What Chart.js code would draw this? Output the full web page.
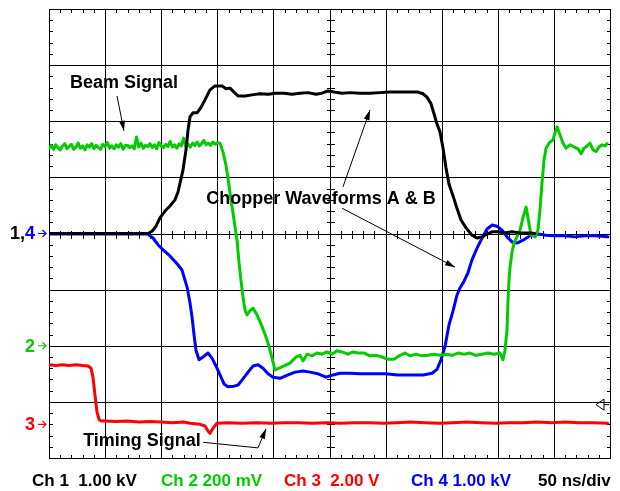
<!DOCTYPE html>
<html>
<head>
<meta charset="utf-8">
<script src="https://cdn.jsdelivr.net/npm/chart.js@4.4.0/dist/chart.umd.min.js"></script>
<style>
    html, body { margin: 0; padding: 0; background: #fff; }
    canvas { display: block; }
</style>
</head>
<body>
<canvas id="scope" width="620" height="491"></canvas>
<script>
// Chopper / beam scope capture - time in ns, levels in divisions

// Ch 1 - beam signal (black)
const ch1Time  = [0, 88.2, 91.8, 95.4, 98.9, 103.4, 107.8, 112.3, 115, 116.8, 119.4, 122.1, 123.9, 125.7, 128.3, 131.9, 134.6, 139, 143.5, 147.9, 154.2, 157.8, 161.3, 164.9, 168.5, 174.7, 180.9, 188.1, 195.2, 202.3, 209.5, 216.6, 223.7, 230.9, 238, 243.3, 248.7, 254, 261.2, 268.3, 277.2, 286.1, 295, 303.9, 312.8, 321.8, 328.9, 333.3, 336.9, 340.5, 343.2, 345.8, 348.5, 351.2, 353.8, 356.5, 360.1, 363.6, 367.2, 371.7, 377, 381.5, 386, 390.4, 394.8, 400.2, 405.5, 412.7, 419.8, 428.7, 433];
const ch1Level = [0, 0, 0.04, 0.13, 0.28, 0.40, 0.49, 0.60, 0.74, 0.90, 1.13, 1.49, 1.84, 2.08, 2.15, 2.15, 2.22, 2.38, 2.56, 2.63, 2.63, 2.58, 2.59, 2.52, 2.45, 2.45, 2.47, 2.49, 2.48, 2.50, 2.50, 2.48, 2.50, 2.51, 2.48, 2.50, 2.54, 2.52, 2.50, 2.51, 2.50, 2.50, 2.51, 2.52, 2.52, 2.52, 2.52, 2.49, 2.43, 2.31, 2.13, 1.95, 1.81, 1.52, 1.17, 0.88, 0.67, 0.45, 0.24, 0.10, -0.03, -0.08, -0.06, -0.01, 0.03, 0.03, 0.01, 0.03, 0.01, 0.01, 0];

// Ch 2 - chopper waveform A (green)
const ch2Time  = [0, 2, 4, 6, 8, 10, 12, 14, 16, 18, 20, 22, 24, 26, 28, 30, 32, 34, 36, 38, 40, 42, 44, 46, 48, 50, 52, 54, 56, 58, 60, 62, 64, 66, 68, 70, 72, 74, 76, 78, 80, 82, 84, 86, 88, 90, 92, 94, 96, 98, 100, 102, 104, 106, 108, 110, 112, 114, 116, 118, 120, 122, 124, 126, 128, 130, 132, 134, 136, 138, 140, 142, 144, 146, 148, 150, 152.4, 155.1, 157.7, 159.5, 162.2, 164.9, 167.6, 169.3, 171.1, 172.9, 174.7, 176.5, 179.1, 181.8, 185.4, 188.9, 192.5, 196.1, 198.8, 201.4, 205, 209.5, 214.8, 220.2, 223.7, 226.4, 230, 234.4, 238.9, 243.3, 247.8, 252.2, 256.7, 261.2, 266.5, 271, 275.4, 281, 286.1, 291.5, 296.8, 302.2, 307.5, 312.8, 317.3, 321.8, 327.1, 332.5, 337.8, 343.2, 348.5, 353.8, 359.2, 364.5, 369.9, 375.2, 380.6, 386, 391.3, 396.6, 402, 404.6, 406.4, 408.2, 409.1, 410, 410.9, 412.7, 414.5, 417.1, 419.8, 422.5, 425.2, 426.9, 429.6, 433.2, 435.8, 437.6, 439.4, 441.2, 443, 445.6, 449.2, 451, 452.8, 455.4, 458.1, 460.8, 464.4, 467.9, 471.5, 474.2, 476.8, 479.5, 482.2, 484.9, 487.5, 490.2, 492.9, 495.6, 497.3];
const ch2Level = [1.52, 1.57, 1.50, 1.58, 1.53, 1.49, 1.56, 1.60, 1.51, 1.55,
                  1.59, 1.50, 1.54, 1.61, 1.52, 1.56, 1.49, 1.58, 1.54, 1.60,
                  1.51, 1.57, 1.53, 1.50, 1.59, 1.55, 1.62, 1.52, 1.56, 1.51,
                  1.58, 1.54, 1.60, 1.50, 1.57, 1.57, 1.53, 1.56, 1.51, 1.72,
                  1.54, 1.61, 1.52, 1.57, 1.55, 1.60, 1.53, 1.58, 1.51, 1.62,
                  1.56, 1.53, 1.59, 1.55, 1.64, 1.54, 1.58, 1.52, 1.60, 1.56,
                  1.70, 1.55, 1.59, 1.54, 1.61, 1.57, 1.63, 1.56, 1.60, 1.66,
                  1.58, 1.61, 1.57, 1.63, 1.59, 1.62,
                  1.61, 1.45, 1.22, 0.99, 0.60, 0.24, -0.12, -0.51, -0.83, -1.13, -1.36, -1.45, -1.38, -1.33, -1.45, -1.61, -1.79, -2.01, -2.22, -2.43, -2.40, -2.36, -2.31, -2.20, -2.17, -2.27, -2.15, -2.18, -2.13, -2.15, -2.11, -2.15, -2.09, -2.11, -2.15, -2.11, -2.13, -2.13, -2.18, -2.17, -2.20, -2.24, -2.24, -2.17, -2.13, -2.18, -2.15, -2.18, -2.17, -2.15, -2.17, -2.15, -2.17, -2.13, -2.15, -2.13, -2.17, -2.15, -2.13, -2.15, -2.13, -2.25, -2.08, -1.72, -1.19, -0.83, -0.60, -0.33, -0.17, -0.06, 0.06, 0.29, 0.47, 0.28, -0.03, -0.06, 0.06, 0.42, 0.90, 1.31, 1.52, 1.61, 1.67, 1.79, 1.90, 1.76, 1.61, 1.52, 1.58, 1.54, 1.51, 1.42, 1.52, 1.56, 1.61, 1.49, 1.46, 1.54, 1.58, 1.56, 1.60];

// Ch 3 - timing signal (red)
const ch3Time  = [0, 6, 12, 18, 24, 30, 34.8, 37.4, 39.2, 41, 42.8, 44.6, 46.3, 49.9, 60, 70, 80, 90, 100, 110, 120, 125.7, 134.6, 139, 141.7, 143.5, 146.2, 149.7, 160, 172, 185, 198, 210, 222, 235, 248, 260, 272, 285, 298, 310, 322, 335, 348, 360, 372, 385, 398, 410, 422, 435, 448, 460, 472, 485, 498];
const ch3Level = [-2.34, -2.35, -2.34, -2.35, -2.34, -2.35, -2.36, -2.40, -2.56, -2.88, -3.18, -3.31, -3.34, -3.34, -3.35, -3.34, -3.36, -3.35, -3.36, -3.37, -3.36, -3.38, -3.40, -3.43, -3.52, -3.56, -3.47, -3.38, -3.37, -3.38, -3.37, -3.38, -3.37, -3.37, -3.38, -3.37, -3.38, -3.37, -3.37, -3.38, -3.37, -3.36, -3.37, -3.38, -3.37, -3.36, -3.37, -3.38, -3.37, -3.37, -3.36, -3.37, -3.36, -3.37, -3.37, -3.38];

// Ch 4 - chopper waveform B (blue)
const ch4Time  = [0, 88.2, 92.7, 97.1, 101.6, 107.8, 114.1, 118.5, 123, 125.7, 127.5, 129.3, 131, 133.7, 137.3, 141.7, 145.3, 148.8, 152.4, 156, 159.5, 164.9, 168.5, 172.9, 177.4, 181.8, 186.3, 190.7, 195.2, 199.7, 205.9, 213, 219.3, 226.4, 232.6, 239.8, 246.9, 253.1, 259.4, 268.3, 277.2, 287.9, 299.5, 311.1, 321.8, 333.3, 341.4, 345.8, 349.4, 352.9, 356.5, 360.1, 363.6, 366.3, 369.9, 373.4, 377, 381.5, 386, 390.4, 394.8, 399.3, 403.8, 408.2, 412.7, 417.1, 422.5, 428.7, 435.8, 443, 451, 459.9, 468.8, 477.7, 486.6, 498.2];
const ch4Level = [-0.01, -0.01, -0.08, -0.20, -0.29, -0.40, -0.54, -0.65, -0.95, -1.24, -1.49, -1.81, -2.08, -2.25, -2.20, -2.13, -2.22, -2.36, -2.52, -2.68, -2.73, -2.72, -2.70, -2.59, -2.47, -2.36, -2.34, -2.40, -2.50, -2.56, -2.58, -2.52, -2.47, -2.45, -2.47, -2.50, -2.56, -2.52, -2.49, -2.49, -2.50, -2.50, -2.50, -2.52, -2.52, -2.52, -2.49, -2.42, -2.25, -2.02, -1.63, -1.38, -1.10, -0.97, -0.85, -0.70, -0.47, -0.26, -0.08, 0.08, 0.15, 0.13, 0.06, -0.06, -0.15, -0.17, -0.12, -0.04, -0.01, -0.03, -0.04, -0.04, -0.06, -0.04, -0.04, -0.06];

// Channel reference markers (divisions) and readout
const markerLevels  = [0, -2, -3.4];
const readoutLabels = ['Ch 1  1.00 kV', 'Ch 2 200 mV', 'Ch 3  2.00 V', 'Ch 4 1.00 kV', '50 ns/div'];
const readoutColors = ['#000000', '#00cc00', '#ff0000', '#0000ff', '#000000'];
const triggerLevel  = -3.05;

const FONT = 'bold 18px "Liberation Sans", Arial, sans-serif';

function toPoints(times, levels) {
    return times.map((t, i) => ({ x: t, y: levels[i] }));
}

// Draw a thin polyline ending in a filled arrow head
function drawArrow(ctx, pts) {
    ctx.beginPath();
    ctx.moveTo(pts[0][0], pts[0][1]);
    for (let i = 1; i < pts.length; i++) ctx.lineTo(pts[i][0], pts[i][1]);
    ctx.stroke();
    const [x1, y1] = pts[pts.length - 2];
    const [x2, y2] = pts[pts.length - 1];
    const ang = Math.atan2(y2 - y1, x2 - x1);
    const len = 10, half = 3;
    ctx.beginPath();
    ctx.moveTo(x2, y2);
    ctx.lineTo(x2 - len * Math.cos(ang) + half * Math.sin(ang), y2 - len * Math.sin(ang) - half * Math.cos(ang));
    ctx.lineTo(x2 - len * Math.cos(ang) - half * Math.sin(ang), y2 - len * Math.sin(ang) + half * Math.cos(ang));
    ctx.closePath();
    ctx.fill();
}

// Scope graticule: 10 x 8 divisions, minor ticks on the edges and centre cross
const graticule = {
    id: 'graticule',
    beforeDatasetsDraw(chart) {
        const { ctx, chartArea: a, scales: { x, y } } = chart;
        const px = t => Math.round(x.getPixelForValue(t));
        const py = v => Math.round(y.getPixelForValue(v));
        const L = Math.round(a.left), R = Math.round(a.right), T = Math.round(a.top), B = Math.round(a.bottom);
        ctx.save();
        ctx.fillStyle = '#000';
        for (let t = 0; t <= 500; t += 50) ctx.fillRect(px(t), T, 1, B - T + 1);
        for (let v = -4; v <= 4; v++) ctx.fillRect(L, py(v), R - L + 1, 1);

        const cx = px(250), cy = py(0);
        for (let t = 10; t < 500; t += 10) {
            if (t % 50 === 0) continue;
            const p = px(t);
            ctx.fillRect(p, T, 1, 4);
            ctx.fillRect(p, B - 3, 1, 4);
            ctx.fillRect(p, cy - 3, 1, 8);
        }
        for (let k = -19; k < 20; k++) {
            if (k % 5 === 0) continue;
            const p = py(k * 0.2);
            ctx.fillRect(L, p, 4, 1);
            ctx.fillRect(R - 3, p, 4, 1);
            ctx.fillRect(cx - 3, p, 8, 1);
        }
        ctx.restore();
    },
    afterDatasetsDraw(chart) {
        const { ctx, chartArea: a, scales: { x, y } } = chart;
        const P = (t, v) => [x.getPixelForValue(t), y.getPixelForValue(v)];
        ctx.save();
        ctx.fillStyle = '#000';
        ctx.strokeStyle = '#000';
        ctx.lineWidth = 1;
        ctx.font = FONT;
        ctx.textAlign = 'center';
        ctx.textBaseline = 'middle';

        // Annotations
        let p = P(66.8, 2.68);
        ctx.fillText('Beam Signal', p[0], p[1]);
        drawArrow(ctx, [P(60.6, 2.45), P(66.8, 1.83)]);

        p = P(242.4, 0.62);
        ctx.fillText('Chopper Waveforms A & B', p[0], p[1]);
        drawArrow(ctx, [P(262, 0.83), P(286.1, 2.20)]);
        drawArrow(ctx, [P(261.2, 0.45), P(361.9, -0.60)]);

        p = P(82.9, -3.70);
        ctx.fillText('Timing Signal', p[0], p[1]);
        drawArrow(ctx, [P(137.3, -3.72), P(186.3, -3.82), P(193.4, -3.48)]);

        // Trigger level marker on the right edge
        const ty = y.getPixelForValue(triggerLevel);
        ctx.beginPath();
        ctx.moveTo(a.right - 14, ty);
        ctx.lineTo(a.right - 6, ty - 5.5);
        ctx.lineTo(a.right - 6, ty + 5.5);
        ctx.closePath();
        ctx.moveTo(a.right - 6, ty);
        ctx.lineTo(a.right - 1, ty);
        ctx.stroke();
        ctx.restore();
    },
    afterDraw(chart) {
        const { ctx, chartArea: a, scales: { y } } = chart;
        ctx.save();
        ctx.font = FONT;
        ctx.textBaseline = 'middle';
        ctx.lineWidth = 1.2;

        // Channel ground markers on the left
        const marks = [
            [['1,', '#000000'], ['4', '#0000ff']],
            [['2', '#00cc00']],
            [['3', '#ff0000']]
        ];
        marks.forEach((parts, i) => {
            const my = y.getPixelForValue(markerLevels[i]);
            let right = 35;
            ctx.textAlign = 'right';
            for (let j = parts.length - 1; j >= 0; j--) {
                ctx.fillStyle = parts[j][1];
                ctx.fillText(parts[j][0], right, my + 1);
                right -= ctx.measureText(parts[j][0]).width;
            }
            const col = parts[parts.length - 1][1];
            ctx.strokeStyle = col;
            ctx.beginPath();
            ctx.moveTo(38, my); ctx.lineTo(46, my);
            ctx.moveTo(42.5, my - 3.5); ctx.lineTo(46, my); ctx.lineTo(42.5, my + 3.5);
            ctx.stroke();
        });

        // Readout line under the graticule
        const lefts = [32, 161, 284, 411, 538];
        ctx.font = 'bold 17px "Liberation Sans", Arial, sans-serif';
        ctx.textAlign = 'left';
        readoutLabels.forEach((txt, i) => {
            ctx.fillStyle = readoutColors[i];
            ctx.fillText(txt, lefts[i], a.bottom + 23);
        });
        ctx.restore();
    }
};

const ctx = document.getElementById('scope');

new Chart(ctx, {
    type: 'line',
    data: {
        datasets: [
            { label: 'Ch 1', data: toPoints(ch1Time, ch1Level), borderColor: '#000000', order: 0 },
            { label: 'Ch 2', data: toPoints(ch2Time, ch2Level), borderColor: '#00cc00', order: 1 },
            { label: 'Ch 4', data: toPoints(ch4Time, ch4Level), borderColor: '#0000ff', order: 2 },
            { label: 'Ch 3', data: toPoints(ch3Time, ch3Level), borderColor: '#ff0000', order: 3 }
        ]
    },
    options: {
        responsive: false,
        animation: false,
        layout: { padding: { left: 49, top: 9, right: 10, bottom: 33 } },
        elements: {
            point: { radius: 0 },
            line: { borderWidth: 3, tension: 0, borderJoinStyle: 'round', borderCapStyle: 'round' }
        },
        scales: {
            x: { type: 'linear', min: 0, max: 500, display: false },
            y: { type: 'linear', min: -4, max: 4, display: false }
        },
        plugins: {
            legend: { display: false },
            tooltip: { enabled: false }
        }
    },
    plugins: [graticule]
});
</script>
</body>
</html>
